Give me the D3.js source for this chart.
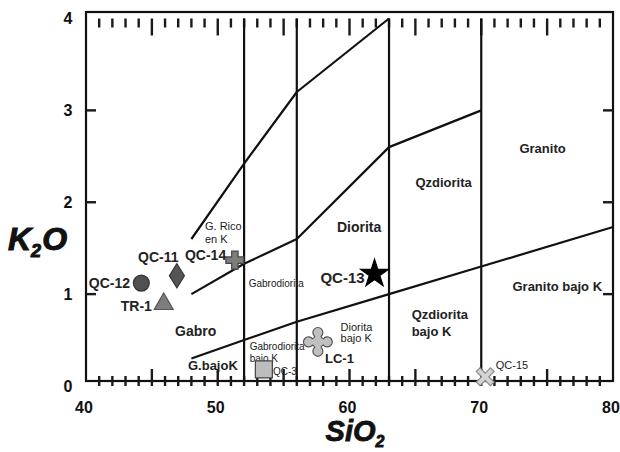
<!DOCTYPE html>
<html><head><meta charset="utf-8">
<script src="https://cdn.jsdelivr.net/npm/d3@7"></script>
<style>body{margin:0;background:#fff}</style>
</head><body>
<script>
// ---- data ----
const xTickLabels = [40, 50, 60, 70, 80];
const yTickLabels = [0, 1, 2, 3, 4];
const xMinorTicks = d3.range(41, 80);
const yMajorTicks = [1, 2, 3];
const vLines = [52, 56, 63, 70];
const upperLine = [[48, 1.6], [52, 2.42], [56, 3.2], [63, 4.0]];
const midLine = [[48, 1.0], [52, 1.33], [56, 1.6], [63, 2.6], [70, 3.0]];
const lowLine = [[48, 0.3], [52, 0.5], [56, 0.7], [63, 1.0], [70, 1.3], [80, 1.73]];

const samples = ["QC-12", "QC-11", "TR-1", "QC-14", "QC-3", "LC-1", "QC-13", "QC-15"];
const sio2 = [44.2, 46.9, 45.9, 51.3, 53.5, 57.6, 61.9, 70.3];
const k2o = [1.12, 1.2, 0.92, 1.37, 0.18, 0.48, 1.22, 0.10];
const shapes = ["circle", "diamond", "triangle", "plus", "square", "flower", "star", "x"];

const sampleLabels = [
  ["QC-12", 43.34, 1.12, "end"], ["QC-11", 43.95, 1.40, "start"], ["TR-1", 45.0, 0.87, "end"],
  ["QC-14", 47.51, 1.43, "start"], ["QC-3", 54.19, 0.16, "start"], ["LC-1", 58.14, 0.305, "start"],
  ["QC-13", 61.15, 1.175, "end"], ["QC-15", 71.1, 0.23, "start"]
];
const sampleLabelSize = [14, 14, 14, 14, 10, 13, 15, 11];
const sampleLabelWeight = ["bold", "bold", "bold", "bold", "normal", "bold", "bold", "normal"];

const fieldLabels = [
  ["G. Rico", 49.03, 1.74], ["en K", 49.03, 1.60], ["Gabro", 46.76, 0.60],
  ["Gabrodiorita", 52.35, 1.118], ["Gabrodiorita", 52.42, 0.427], ["bajo K", 52.42, 0.298],
  ["G.bajoK", 47.74, 0.221], ["Diorita", 59.32, 0.642], ["bajo K", 59.32, 0.518],
  ["Diorita", 59.05, 1.73], ["Qzdiorita", 65.0, 2.22], ["Granito", 72.9, 2.59],
  ["Granito bajo K", 72.37, 1.08], ["Qzdiorita", 64.72, 0.78], ["bajo K", 64.72, 0.59]
];
const fieldLabelSize = [11, 11, 14, 10, 10, 10, 13, 11, 11, 14, 13, 13, 13, 13, 13];
const fieldLabelWeight = ["normal", "normal", "bold", "normal", "normal", "normal", "bold", "normal", "normal",
  "bold", "bold", "bold", "bold", "bold", "bold"];

// ---- layout ----
const W = 620, H = 452;
const frame = {left: 86, right: 613, top: 12, bottom: 381};
const FONT = "'Liberation Sans Narrow','Arial Narrow','Liberation Sans',Arial,sans-serif";

const x = d3.scaleLinear().domain([40, 80]).range([frame.left, frame.right]);
const y = d3.scaleLinear().domain([0, 4]).range([386, 18.5]);

const svg = d3.select("body").append("svg").attr("width", W).attr("height", H)
  .style("font-family", FONT);
svg.append("rect").attr("width", W).attr("height", H).attr("fill", "#fff");

// frame
svg.append("rect").attr("x", frame.left).attr("y", frame.top)
  .attr("width", frame.right - frame.left).attr("height", frame.bottom - frame.top)
  .attr("fill", "none").attr("stroke", "#111").attr("stroke-width", 2.2);

// ticks
const TICK = "#1a1a1a", TW = 2.4;
const ticks = svg.append("g");
xMinorTicks.forEach(d => {
  const major = d % 5 === 0;
  ticks.append("line").attr("x1", x(d)).attr("x2", x(d))
    .attr("y1", y(4)).attr("y2", y(4) + (major ? 17 : 9))
    .attr("stroke", TICK).attr("stroke-width", TW);
  ticks.append("line").attr("x1", x(d)).attr("x2", x(d))
    .attr("y1", frame.bottom - (major ? 12 : 5)).attr("y2", frame.bottom + 5)
    .attr("stroke", TICK).attr("stroke-width", TW);
});
yMajorTicks.forEach(d => {
  ticks.append("line").attr("x1", frame.left).attr("x2", frame.left + 10).attr("y1", y(d)).attr("y2", y(d))
    .attr("stroke", TICK).attr("stroke-width", TW);
  ticks.append("line").attr("x1", frame.right - 10).attr("x2", frame.right).attr("y1", y(d)).attr("y2", y(d))
    .attr("stroke", TICK).attr("stroke-width", TW);
});

// tick labels
svg.append("g").selectAll("text").data(xTickLabels).join("text")
  .attr("x", d => x(d) - 2).attr("y", 413).attr("text-anchor", "middle")
  .attr("font-size", 16).attr("font-weight", "bold").attr("fill", "#111").text(d => d);
svg.append("g").selectAll("text").data(yTickLabels).join("text")
  .attr("x", 68).attr("y", d => y(d)).attr("dy", "0.36em").attr("text-anchor", "middle")
  .attr("font-size", 16).attr("font-weight", "bold").attr("fill", "#111").text(d => d);

// vertical boundaries
svg.append("g").selectAll("line").data(vLines).join("line")
  .attr("x1", d => x(d)).attr("x2", d => x(d))
  .attr("y1", y(4)).attr("y2", frame.bottom)
  .attr("stroke", "#111").attr("stroke-width", 2.2);

// sloped boundaries
const lineGen = d3.line().x(d => x(d[0])).y(d => y(d[1]));
[upperLine, midLine, lowLine].forEach(l => {
  svg.append("path").attr("d", lineGen(l)).attr("fill", "none")
    .attr("stroke", "#111").attr("stroke-width", 2.2).attr("stroke-linejoin", "round");
});

// field labels
svg.append("g").selectAll("text").data(fieldLabels).join("text")
  .attr("x", d => x(d[1])).attr("y", d => y(d[2])).attr("dy", "0.35em")
  .attr("font-size", (d, i) => fieldLabelSize[i]).attr("font-weight", (d, i) => fieldLabelWeight[i])
  .attr("fill", "#222").text(d => d[0]);

// sample labels
svg.append("g").selectAll("text").data(sampleLabels).join("text")
  .attr("x", d => x(d[1])).attr("y", d => y(d[2])).attr("dy", "0.35em")
  .attr("text-anchor", d => d[3])
  .attr("font-size", (d, i) => sampleLabelSize[i]).attr("font-weight", (d, i) => sampleLabelWeight[i])
  .attr("fill", "#222").text(d => d[0]);

// markers
function shapePath(s) {
  switch (s) {
    case "diamond": return "M0,-12L7.5,0L0,12L-7.5,0Z";
    case "triangle": return "M0,-8.5L9.5,8L-9.5,8Z";
    case "plus": { const a = 3.2, b = 9; return `M${-a},${-b}H${a}V${-a}H${b}V${a}H${a}V${b}H${-a}V${a}H${-b}V${-a}H${-a}Z`; }
    case "square": return "M-8.5,-8.5H8.5V8.5H-8.5Z";
    case "flower": {
      const r = 5, o = 5.5;
      return `M${-r/1.6},${-o}A${r},${r} 0 1 1 ${r/1.6},${-o}` +
        `A${r},${r} 0 0 0 ${o},${-r/1.6}A${r},${r} 0 1 1 ${o},${r/1.6}` +
        `A${r},${r} 0 0 0 ${r/1.6},${o}A${r},${r} 0 1 1 ${-r/1.6},${o}` +
        `A${r},${r} 0 0 0 ${-o},${r/1.6}A${r},${r} 0 1 1 ${-o},${-r/1.6}` +
        `A${r},${r} 0 0 0 ${-r/1.6},${-o}Z`;
    }
    case "star": return d3.symbol(d3.symbolStar, 240)();
    case "x": { const a = 2.6, b = 10; return `M${-a},${-b}H${a}V${-a}H${b}V${a}H${a}V${b}H${-a}V${a}H${-b}V${-a}H${-a}Z`; }
    default: return d3.symbol(d3.symbolCircle, 200)();
  }
}
const fills = {circle: "#505050", diamond: "#555", triangle: "#7d7d7d", plus: "#7d7d7d",
  square: "#bdbdbd", flower: "#c0c0c0", star: "#000", x: "#d4d4d4"};
const strokes = {circle: "#333", diamond: "#333", triangle: "#555", plus: "#444",
  square: "#444", flower: "#555", star: "#000", x: "#8a8a8a"};

svg.append("g").selectAll("path").data(samples).join("path")
  .attr("d", (d, i) => shapePath(shapes[i]))
  .attr("transform", (d, i) => `translate(${x(sio2[i])},${y(k2o[i])})` + (shapes[i] === "x" ? " rotate(45)" : ""))
  .attr("fill", (d, i) => fills[shapes[i]]).attr("stroke", (d, i) => strokes[shapes[i]])
  .attr("stroke-width", 1.2);

// axis titles
const kt = svg.append("text").attr("x", 8).attr("y", 250)
  .attr("font-family", "'Liberation Sans',Arial,sans-serif")
  .attr("font-weight", "900").attr("font-style", "italic").attr("fill", "#111")
  .attr("stroke", "#111").attr("stroke-width", 1);
kt.append("tspan").attr("font-size", 32).text("K");
kt.append("tspan").attr("font-size", 18).attr("dy", 7).text("2");
kt.append("tspan").attr("font-size", 32).attr("dy", -7).attr("dx", 1).text("O");

const st = svg.append("text").attr("x", 355).attr("y", 441).attr("text-anchor", "middle")
  .attr("font-family", "'Liberation Sans',Arial,sans-serif")
  .attr("font-weight", "900").attr("font-style", "italic").attr("fill", "#111")
  .attr("stroke", "#111").attr("stroke-width", 0.8);
st.append("tspan").attr("font-size", 29).text("SiO");
st.append("tspan").attr("font-size", 16).attr("dy", 6).text("2");
</script>
</body></html>
